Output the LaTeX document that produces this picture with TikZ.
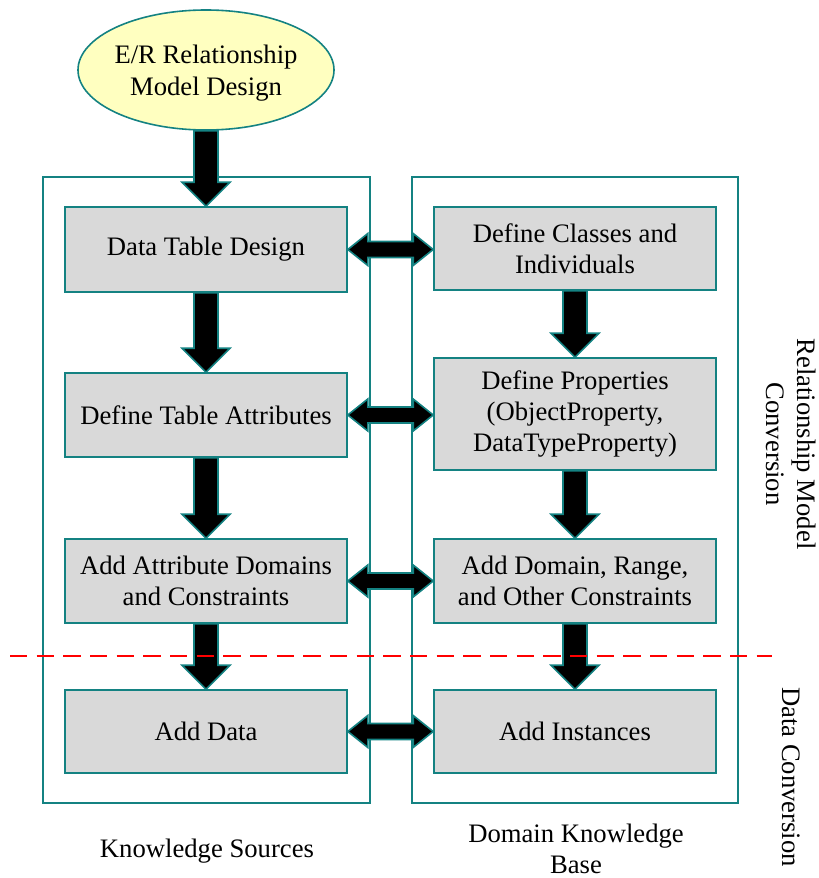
\documentclass[tikz,border=0pt]{standalone}
\usepackage{fontspec}
\setmainfont{Liberation Serif}
\usetikzlibrary{calc,shapes.geometric}
\definecolor{tealb}{RGB}{20,130,130}
\definecolor{boxgray}{RGB}{217,217,217}
\definecolor{ellfill}{RGB}{255,255,192}
\newcommand{\varrow}[2]{%
  \draw[fatarrow] let \p1=(#1.south), \p2=(#2.north) in
    (\x1-12*0.75pt,\y1) -- (\x1-12*0.75pt,\y2+24*0.75pt) -- (\x1-24*0.75pt,\y2+24*0.75pt)
    -- (\x1,\y2) -- (\x1+24*0.75pt,\y2+24*0.75pt) -- (\x1+12*0.75pt,\y2+24*0.75pt)
    -- (\x1+12*0.75pt,\y1) -- cycle;}
\newcommand{\harrow}[2]{%
  \draw[fatarrow] let \p1=(#1.east), \p2=(#2.west) in
    (\x1,\y1) -- (\x1+20*0.75pt,\y1+16*0.75pt) -- (\x1+20*0.75pt,\y1+8*0.75pt)
    -- (\x2-20*0.75pt,\y1+8*0.75pt) -- (\x2-20*0.75pt,\y1+16*0.75pt) -- (\x2,\y1)
    -- (\x2-20*0.75pt,\y1-16*0.75pt) -- (\x2-20*0.75pt,\y1-8*0.75pt)
    -- (\x1+20*0.75pt,\y1-8*0.75pt) -- (\x1+20*0.75pt,\y1-16*0.75pt) -- cycle;}
\begin{document}
\begin{tikzpicture}[x=0.75pt,y=-0.75pt,
  every node/.style={font=\fontsize{20pt}{23.5pt}\selectfont, align=center, inner sep=0pt},
  container/.style={draw=tealb, line width=1.2pt, fill=none},
  procbox/.style={draw=tealb, line width=1.2pt, fill=boxgray, minimum width=282*0.75pt},
  fatarrow/.style={draw=tealb, fill=black, line width=1.2pt, line join=miter}]
\useasboundingbox (0,0) rectangle (818,878);
% containers
\node[container, minimum width=327*0.75pt, minimum height=626*0.75pt] (kc) at (206.5,490) {};
\node[container, minimum width=326*0.75pt, minimum height=626*0.75pt] (dc) at (575,490) {};
% ellipse
\node[ellipse, draw=tealb, line width=1.2pt, fill=ellfill, minimum width=256*0.75pt, minimum height=120*0.75pt] (er) at (206,70) {};
\node[font=\fontsize{20pt}{24.5pt}\selectfont] (ert) at (206,73) {E/R Relationship\\Model Design};
% left boxes
\node[procbox, minimum height=85*0.75pt] (l1) at (206,249.5) {Data Table Design};
\node[procbox, minimum height=84*0.75pt] (l2) at (206,415) {Define Table Attributes};
\node[procbox, minimum height=84*0.75pt] (l3) at (206,581) {Add Attribute Domains\\and Constraints};
\node[procbox, minimum height=83*0.75pt] (l4) at (206,731.5) {Add Data};
% right boxes
\node[procbox, minimum height=83*0.75pt] (r1) at (575,248.5) {Define Classes and\\Individuals};
\node[procbox, minimum height=112*0.75pt] (r2) at (575,414) {Define Properties\\(ObjectProperty,\\DataTypeProperty)};
\node[procbox, minimum height=84*0.75pt] (r3) at (575,581) {Add Domain, Range,\\and Other Constraints};
\node[procbox, minimum height=83*0.75pt] (r4) at (575,731.5) {Add Instances};
% vertical arrows
\varrow{er}{l1}
\varrow{l1}{l2}
\varrow{l2}{l3}
\varrow{l3}{l4}
\varrow{r1}{r2}
\varrow{r2}{r3}
\varrow{r3}{r4}
% horizontal double arrows
\harrow{l1}{r1}
\harrow{l2}{r2}
\harrow{l3}{r3}
\harrow{l4}{r4}
% dashed separator
\coordinate (dL) at (10,656);
\coordinate (dR) at (772,656);
\draw[red, line width=1pt, dash pattern=on 13pt off 7pt] (dL) -- (dR);
% labels
\node (ks) at (207,851) {Knowledge Sources};
\node (dkb) at (576,849) {Domain Knowledge\\Base};
\node[rotate=-90] (rmc) at (791,444) {Relationship Model\\Conversion};
\node[rotate=-90] (dcv) at (791,777) {Data Conversion};
\end{tikzpicture}
\end{document}
